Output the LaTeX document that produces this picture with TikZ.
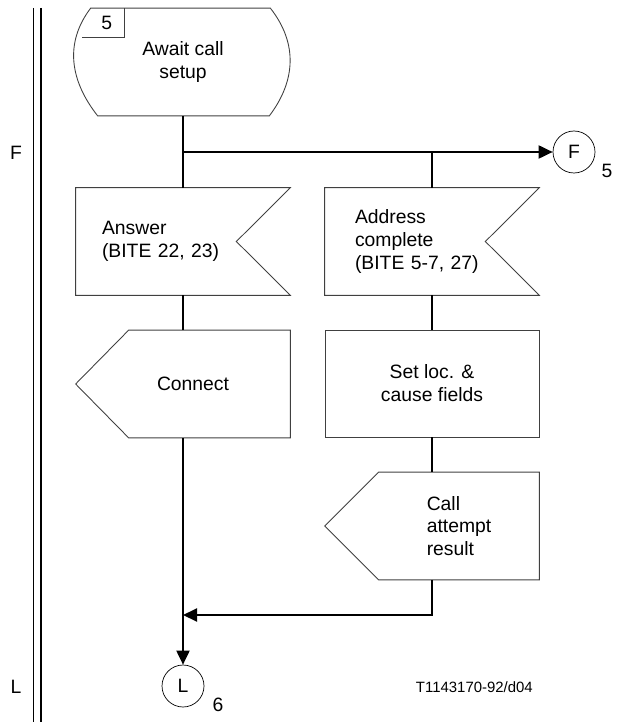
\documentclass[tikz,border=0pt]{standalone}
\usepackage{fontspec}
\setmainfont{Liberation Sans}
\usetikzlibrary{arrows.meta}
\usetikzlibrary{calc}

\begin{document}
\begin{tikzpicture}[font=\fontsize{11}{13}\selectfont]
  \useasboundingbox (0,0) rectangle (12.34,-14.44);
  \tikzstyle{box}=[draw=black!75,line width=0.5pt]
  \tikzstyle{flow}=[line width=1.1pt,>={Triangle[length=0.28cm,width=0.26cm]}]

  % rails on the left
  \draw[line width=0.8pt] (0.67,-0.16) -- (0.67,-14.44);
  \draw[line width=0.8pt] (0.82,-0.16) -- (0.82,-14.44);
  \node (lab_f) at (0.32,-3.05) {F};
  \node (lab_l) at (0.32,-13.74) {L};

  \begin{scope}[shape=rectangle,minimum width=4.28cm,minimum height=2.14cm,inner sep=0pt]
      \node[align=center] (state)   at (3.66,-1.24) {Await call\\setup};
      \node[text width=3.24cm,align=left] (answer)  at (3.66,-4.83) {Answer\\(BITE 22, 23)};
      \node[text width=3.08cm,align=left] (address) at (8.64,-4.83) {Address\\complete\\(BITE 5-7, 27)};
      \node[align=center] (connect) at (3.66,-7.68) {\hspace*{0.4cm}Connect};
      \node[draw=black!75,line width=0.5pt,align=center] (setloc) at (8.64,-7.67) {Set loc. \&\\cause fields};
      \node[minimum width=3.2cm,align=left] (callres) at (9.18,-10.52) {Call\\attempt\\result};
  \end{scope}

  % state outline with its number box
  \draw[box] ($(state.north west)+(0.3,0)$) -- ($(state.north east)+(-0.4,0)$)
      .. controls +(0.55,-0.7) and +(0.53,0.7) .. ($(state.south east)+(-0.42,0)$)
      -- ($(state.south west)+(0.44,0)$)
      .. controls +(-0.55,0.7) and +(-0.53,-0.7) .. cycle;
  \draw[box] ($(state.north west)+(0.98,0)$) |- ($(state.north west)+(0.12,-0.58)$);
  \node (statenum) at ($(state.north west)+(0.62,-0.29)$) {5};

  % input signals (notch on the right)
  \foreach \n in {answer,address}
      \draw[box] (\n.north west) -- (\n.north east) -- ($(\n.east)+(-1.08,0)$)
          -- (\n.south east) -- (\n.south west) -- cycle;
  % output signals (point on the left)
  \draw[box] ($(connect.north west)+(1.06,0)$) -- (connect.north east) -- (connect.south east)
      -- ($(connect.south west)+(1.06,0)$) -- (connect.west) -- cycle;
  \draw[box] (callres.north west) -- (callres.north east) -- (callres.south east)
      -- (callres.south west) -- ($(callres.west)+(-1.08,0)$) -- cycle;

  \node[draw,circle,minimum size=0.84cm,inner sep=0pt] (fconn) at (11.48,-3.04) {F};
  \node[draw,circle,minimum size=0.84cm,inner sep=0pt] (lconn) at (3.66,-13.72) {L};
  \node (fpage) at (12.14,-3.42) {5};
  \node (lpage) at (4.36,-14.1) {6};
  \node[anchor=east,font=\fontsize{8.5}{10}\selectfont] (fig_id) at (10.78,-13.74) {T1143170-92/d04};

  \coordinate (branch) at (3.66,-3.04);
  \coordinate (join) at (3.66,-12.3);

  \draw[flow]     (state)   -- (answer);
  \draw[flow,->]  (branch)  -- (fconn);
  \draw[flow]     (branch -| address.north) -- (address);
  \draw[flow]     (answer)  -- (connect);
  \draw[flow,->]  (connect) -- (lconn);
  \draw[flow]     (address) -- (setloc);
  \draw[flow]     (setloc)  -- (setloc |- callres.north);
  \draw[flow,->]  (callres.south -| setloc) |- (join);
\end{tikzpicture}
\end{document}
